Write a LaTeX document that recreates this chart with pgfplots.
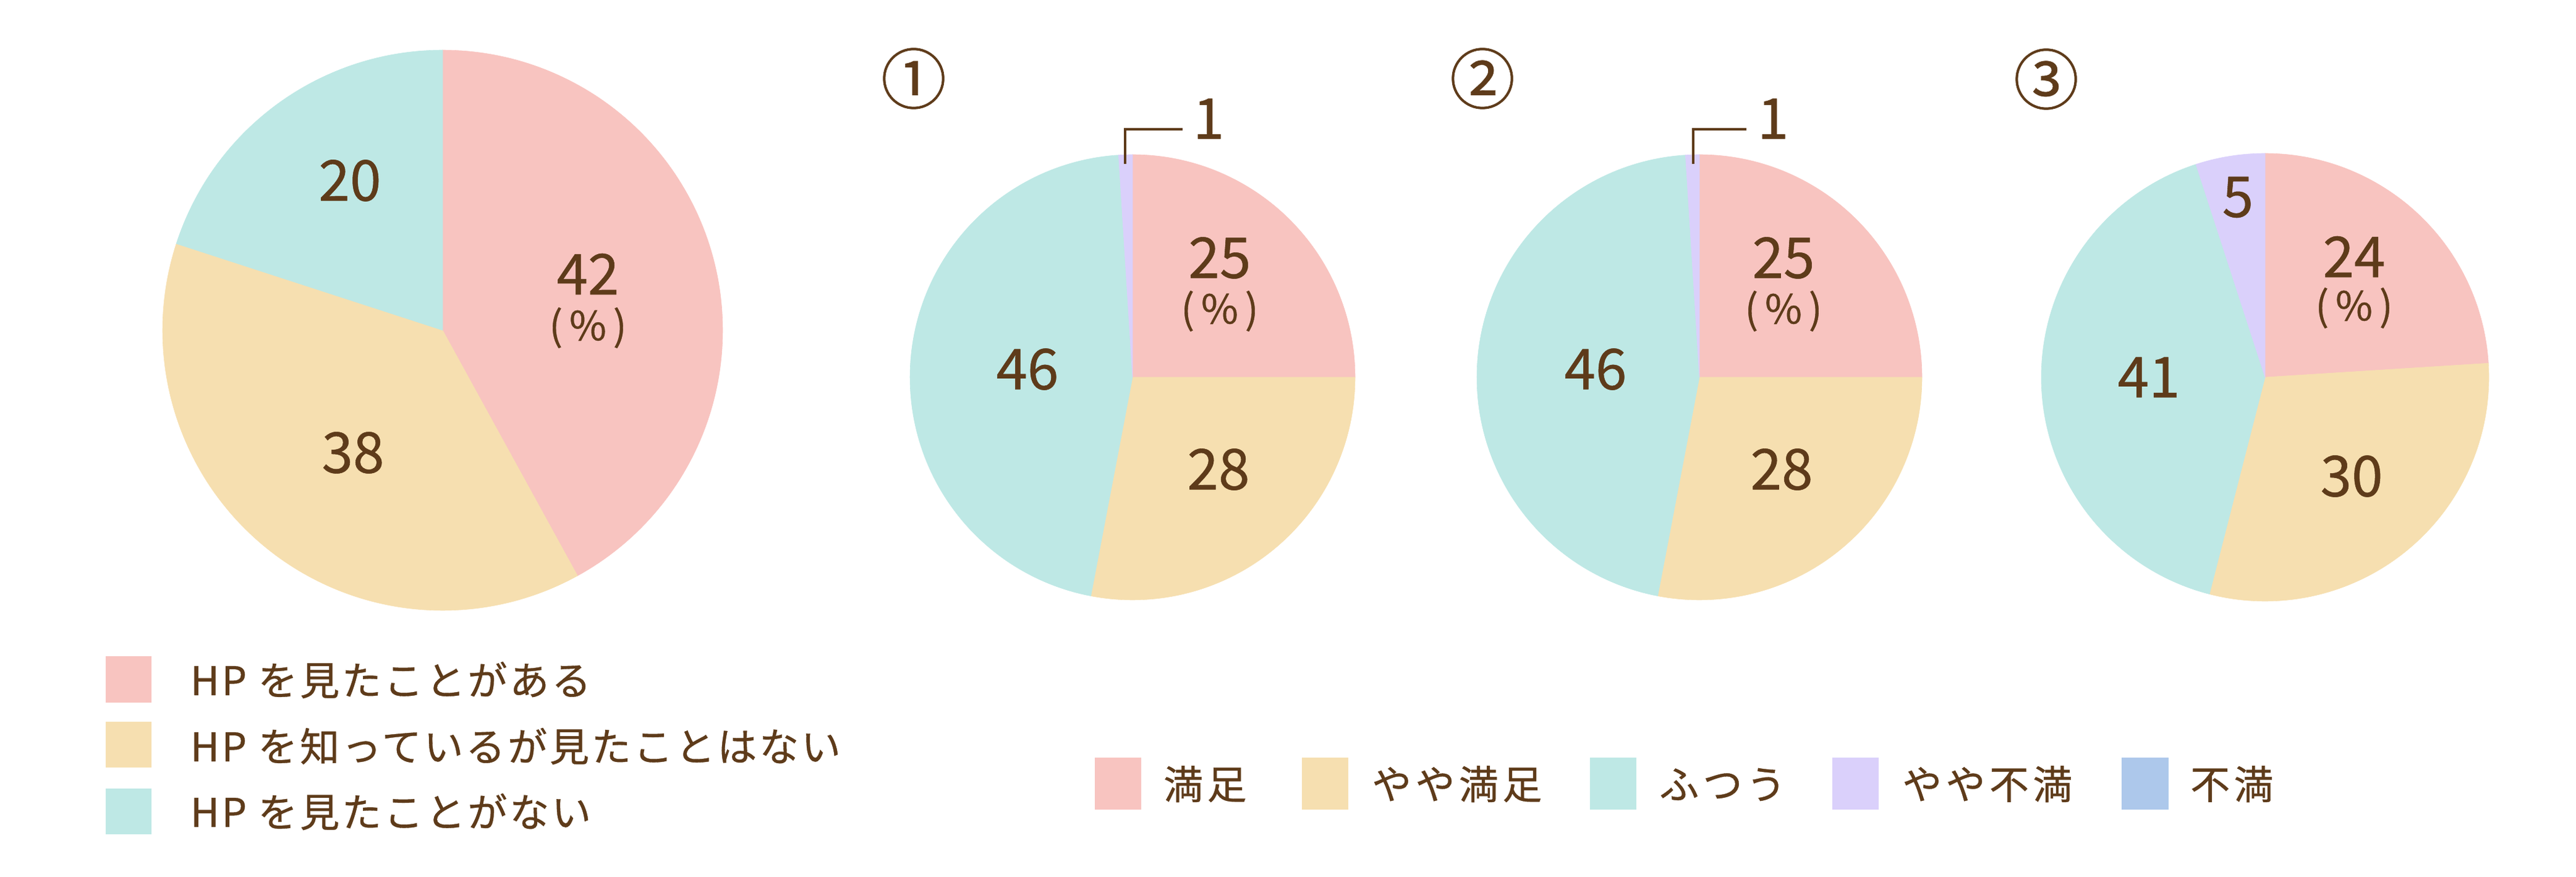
\documentclass[border=0pt]{standalone}
\usepackage{pgfplots}
\pgfplotsset{compat=1.18}
\usepackage{fontspec}
\setmainfont{Noto Sans CJK JP}[FakeBold=0.6]
\newfontfamily\legfont[LetterSpace=10, FakeBold=0.6]{Noto Sans CJK JP}
\newfontfamily\legfontl[LetterSpace=6, FakeBold=0.6]{Noto Sans CJK JP}

\definecolor{txt}{HTML}{5E3B1A}
\definecolor{cPink}{HTML}{F8C4C0}
\definecolor{cYel}{HTML}{F6DFB0}
\definecolor{cTeal}{HTML}{BEE8E5}
\definecolor{cPur}{HTML}{DAD0FB}
\definecolor{cBlue}{HTML}{ADC8EB}

% one slice: centre x, centre y, radius, colour, start (%), value (%)
\newcommand{\slice}[6]{%
  \addplot[fill=#4, draw=#4, line width=0.6pt, domain=#5:#5+#6,
    samples=120, variable=\t]
    ({#1+#3*sin(3.6*\t)}, {#2+#3*cos(3.6*\t)}) -- (axis cs:#1,#2) -- cycle;}

\tikzset{
  num/.style={font=\fontsize{91}{98}\selectfont, text=txt, inner sep=0pt},
  pct/.style={font=\fontsize{65}{70}\selectfont, text=txt, inner sep=0pt},
  circ/.style={font=\fontsize{106}{114}\selectfont, text=txt, inner sep=0pt},
  leg/.style={font=\legfont\fontsize{64}{70}\selectfont, text=txt, inner sep=0pt, anchor=base west},
  legl/.style={font=\legfontl\fontsize{64}{70}\selectfont, text=txt, inner sep=0pt, anchor=base west},
}

\begin{document}
\begin{tikzpicture}
\begin{axis}[
    width=4167pt, height=1417pt, scale only axis,
    xmin=0, xmax=4167, ymin=0, ymax=1417,
    hide axis, clip=false,
  ]
  \path (axis cs:0,0) rectangle (axis cs:4167,1417);

  % pie: HP awareness
  \slice{716}{883}{453}{cPink}{0}{42}
  \slice{716}{883}{453}{cYel}{42}{38}
  \slice{716}{883}{453}{cTeal}{80}{20}
  \node[num] at (axis cs:566,1125) {20};
  \node[num] at (axis cs:951,974) {42};
  \node[pct] at (axis cs:951,887) {(\,\%\,)};
  \node[num] at (axis cs:571,685) {38};

  % pie 1
  \slice{1832}{807}{360}{cPink}{0}{25}
  \slice{1832}{807}{360}{cYel}{25}{28}
  \slice{1832}{807}{360}{cTeal}{53}{46}
  \slice{1832}{807}{360}{cPur}{99}{1}
  \node[num] at (axis cs:1973,1000) {25};
  \node[pct] at (axis cs:1973,914) {(\,\%\,)};
  \node[num] at (axis cs:1662,820) {46};
  \node[num] at (axis cs:1971,658) {28};
  \draw[txt, line width=3.5pt] (axis cs:1820,1152) -- (axis cs:1820,1208) -- (axis cs:1913,1208);
  \node[num] at (axis cs:1955,1225) {1};
  \node[circ] at (axis cs:1478,1290) {①};

  % pie 2
  \slice{2749}{807}{360}{cPink}{0}{25}
  \slice{2749}{807}{360}{cYel}{25}{28}
  \slice{2749}{807}{360}{cTeal}{53}{46}
  \slice{2749}{807}{360}{cPur}{99}{1}
  \node[num] at (axis cs:2885,1000) {25};
  \node[pct] at (axis cs:2885,914) {(\,\%\,)};
  \node[num] at (axis cs:2581,820) {46};
  \node[num] at (axis cs:2882,658) {28};
  \draw[txt, line width=3.5pt] (axis cs:2739,1152) -- (axis cs:2739,1208) -- (axis cs:2825,1208);
  \node[num] at (axis cs:2868,1225) {1};
  \node[circ] at (axis cs:2398,1290) {②};

  % pie 3
  \slice{3664}{807}{362}{cPink}{0}{24}
  \slice{3664}{807}{362}{cYel}{24}{30}
  \slice{3664}{807}{362}{cTeal}{54}{41}
  \slice{3664}{807}{362}{cPur}{95}{5}
  \node[num] at (axis cs:3620,1098) {5};
  \node[num] at (axis cs:3808,1002) {24};
  \node[pct] at (axis cs:3808,919) {(\,\%\,)};
  \node[num] at (axis cs:3476,807) {41};
  \node[num] at (axis cs:3804,647) {30};
  \node[circ] at (axis cs:3310,1289) {③};

  % legend left
  \fill[cPink] (axis cs:171,281) rectangle (axis cs:245,356);
  \fill[cYel]  (axis cs:171,176) rectangle (axis cs:245,250);
  \fill[cTeal] (axis cs:171,68)  rectangle (axis cs:245,142);
  \node[legl] at (axis cs:308,293) {HP を見たことがある};
  \node[legl] at (axis cs:308,186) {HP を知っているが見たことはない};
  \node[legl] at (axis cs:308,80)  {HP を見たことがない};

  % legend bottom
  \fill[cPink] (axis cs:1771,108) rectangle (axis cs:1846,192);
  \fill[cYel]  (axis cs:2106,108) rectangle (axis cs:2181,192);
  \fill[cTeal] (axis cs:2572,108) rectangle (axis cs:2647,192);
  \fill[cPur]  (axis cs:2964,108) rectangle (axis cs:3039,192);
  \fill[cBlue] (axis cs:3432,108) rectangle (axis cs:3508,192);
  \node[leg] at (axis cs:1882,125) {満足};
  \node[leg] at (axis cs:2219,125) {やや満足};
  \node[leg] at (axis cs:2684,125) {ふつう};
  \node[leg] at (axis cs:3077,125) {やや不満};
  \node[leg] at (axis cs:3543,125) {不満};
\end{axis}
\end{tikzpicture}
\end{document}
